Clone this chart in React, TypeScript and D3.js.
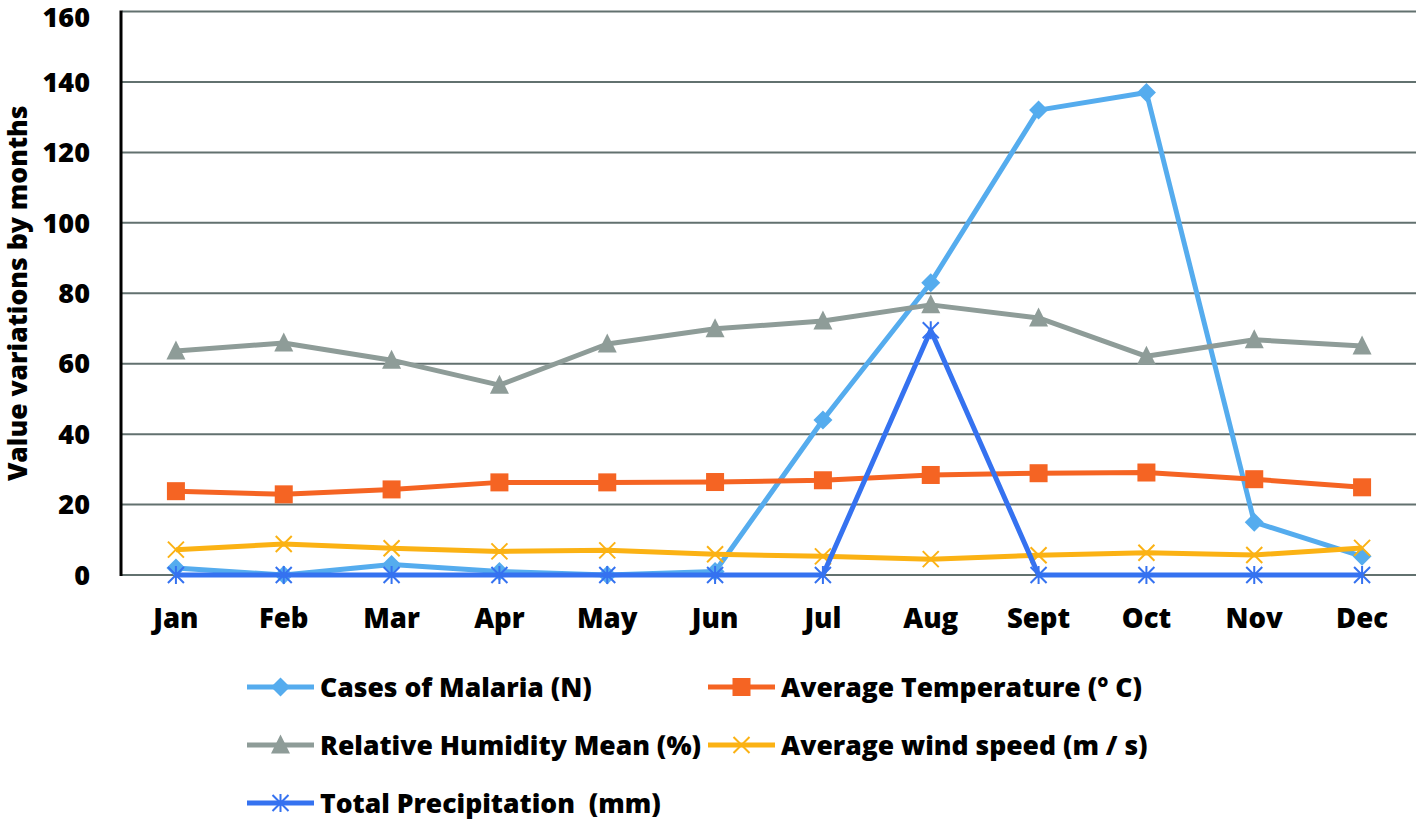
import React from "react";
import * as d3 from "d3";

const months = ["Jan", "Feb", "Mar", "Apr", "May", "Jun", "Jul", "Aug", "Sept", "Oct", "Nov", "Dec"];
const malaria = [2, 0, 3, 1, 0, 1, 44, 83, 132, 137, 15, 5.3];
const temperature = [23.8, 22.9, 24.3, 26.3, 26.3, 26.4, 26.9, 28.4, 28.9, 29.1, 27.2, 24.9];
const humidity = [63.6, 65.9, 61, 53.9, 65.6, 69.9, 72.1, 76.7, 73, 62.1, 66.8, 65];
const wind = [7.2, 8.8, 7.6, 6.7, 7.0, 5.9, 5.3, 4.5, 5.6, 6.3, 5.7, 7.7];
const precipitation = [0, 0, 0, 0, 0, 0, 0, 69.5, 0, 0, 0, 0];
const yTicks = [0, 20, 40, 60, 80, 100, 120, 140, 160];

const seriesNames = [
  "Cases of Malaria (N)",
  "Average Temperature (° C)",
  "Relative Humidity Mean (%)",
  "Average wind speed (m / s)",
  "Total Precipitation  (mm)",
];

type Marker = "diamond" | "square" | "triangle" | "x" | "star";

const series: { name: string; values: number[]; color: string; marker: Marker }[] = [
  { name: seriesNames[0], values: malaria, color: "#55ACEE", marker: "diamond" },
  { name: seriesNames[1], values: temperature, color: "#F56423", marker: "square" },
  { name: seriesNames[2], values: humidity, color: "#8E9C98", marker: "triangle" },
  { name: seriesNames[3], values: wind, color: "#FBB214", marker: "x" },
  { name: seriesNames[4], values: precipitation, color: "#3572F0", marker: "star" },
];

const FONT = "'Open Sans', Lato, sans-serif";

function MarkerShape({ type, x, y, color }: { type: Marker; x: number; y: number; color: string }) {
  if (type === "diamond") {
    const s = 9.5;
    return <path d={`M${x},${y - s}L${x + s},${y}L${x},${y + s}L${x - s},${y}Z`} fill={color} />;
  }
  if (type === "square") {
    const s = 9;
    return <rect x={x - s} y={y - s} width={2 * s} height={2 * s} fill={color} />;
  }
  if (type === "triangle") {
    const s = 9.5;
    return <path d={`M${x},${y - s - 1}L${x + s},${y + s - 1}L${x - s},${y + s - 1}Z`} fill={color} />;
  }
  if (type === "x") {
    const s = 8;
    return (
      <path
        d={`M${x - s},${y - s}L${x + s},${y + s}M${x - s},${y + s}L${x + s},${y - s}`}
        stroke={color}
        strokeWidth={2}
        fill="none"
      />
    );
  }
  const s = 8;
  return (
    <path
      d={`M${x - s},${y - s}L${x + s},${y + s}M${x - s},${y + s}L${x + s},${y - s}M${x},${y - s - 1}L${x},${y + s + 1}`}
      stroke={color}
      strokeWidth={2}
      fill="none"
    />
  );
}

export default function App() {
  const W = 1416;
  const H = 821;
  const left = 122;
  const right = 1416;
  const top = 11.5;
  const bottom = 575;

  const x = d3.scaleBand<string>().domain(months).range([left, right]);
  const y = d3.scaleLinear().domain([0, 160]).range([bottom, top]);
  const cx = (m: string) => (x(m) as number) + x.bandwidth() / 2;

  const line = d3
    .line<number>()
    .x((_, i) => cx(months[i]))
    .y((v) => y(v));

  const legendPos = [
    { lx: 247, ty: 687 },
    { lx: 708, ty: 687 },
    { lx: 247, ty: 745 },
    { lx: 708, ty: 745 },
    { lx: 247, ty: 803 },
  ];

  return (
    <svg
      width={W}
      height={H}
      style={{ position: "absolute", left: 0, top: 0, background: "#fff" }}
      fontFamily={FONT}
    >
      <rect x={0} y={0} width={W} height={H} fill="#fff" />
      {yTicks.map((t) => (
        <g key={t}>
          <line x1={left} x2={right} y1={y(t)} y2={y(t)} stroke="#62716F" strokeWidth={2} />
          <text
            x={90}
            y={Math.max(y(t), 17)}
            dy="0.36em"
            textAnchor="end"
            fontSize={27}
            fontWeight={800}
            fill="#000"
          >
            {t}
          </text>
        </g>
      ))}
      <line x1={121} x2={121} y1={top - 1} y2={bottom + 1} stroke="#000" strokeWidth={3} />
      {months.map((m) => (
        <text
          key={m}
          x={cx(m)}
          y={618}
          dy="0.36em"
          textAnchor="middle"
          fontSize={27.5}
          fontWeight={800}
          fill="#000"
        >
          {m}
        </text>
      ))}
      <text
        transform={`translate(17,${(top + bottom) / 2}) rotate(-90)`}
        dy="0.36em"
        textAnchor="middle"
        fontSize={26.5}
        fontWeight={800}
        fill="#000"
      >
        Value variations by months
      </text>
      {series.map((s) => (
        <g key={s.name}>
          <path d={line(s.values) || ""} fill="none" stroke={s.color} strokeWidth={5} strokeLinejoin="round" />
          {s.values.map((v, i) => (
            <MarkerShape key={i} type={s.marker} x={cx(months[i])} y={y(v)} color={s.color} />
          ))}
        </g>
      ))}
      {series.map((s, i) => {
        const p = legendPos[i];
        return (
          <g key={s.name}>
            <line x1={p.lx} x2={p.lx + 67} y1={p.ty} y2={p.ty} stroke={s.color} strokeWidth={5} />
            <MarkerShape type={s.marker} x={p.lx + 33.5} y={p.ty} color={s.color} />
            <text
              x={p.lx + 73}
              y={p.ty}
              dy="0.36em"
              fontSize={26.5}
              fontWeight={800}
              fill="#000"
              style={{ whiteSpace: "pre" }}
            >
              {s.name}
            </text>
          </g>
        );
      })}
    </svg>
  );
}
